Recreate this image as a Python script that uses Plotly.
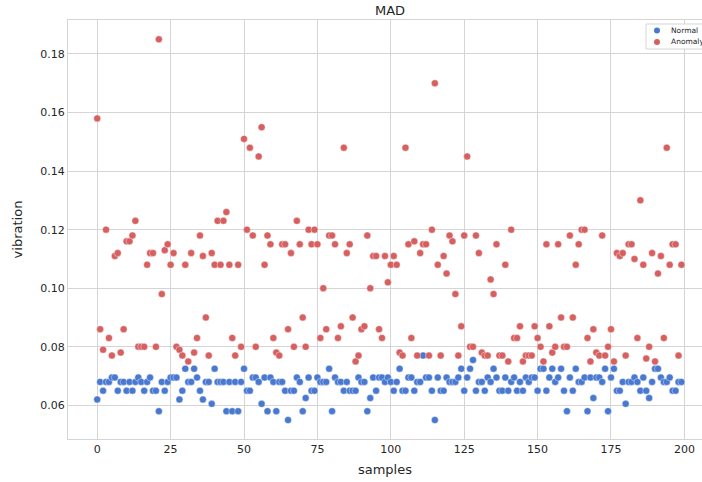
import plotly.graph_objects as go

samples = list(range(200))

normal = [
0.062,0.068,0.065,0.068,0.068,0.0695,0.0695,0.065,0.068,0.068,
0.065,0.068,0.065,0.068,0.0695,0.068,0.065,0.068,0.0695,0.065,
0.065,0.058,0.068,0.065,0.068,0.0695,0.0695,0.0695,0.062,0.065,
0.0725,0.068,0.068,0.0725,0.0695,0.065,0.062,0.068,0.068,0.0605,
0.0725,0.068,0.068,0.068,0.058,0.068,0.058,0.068,0.058,0.068,
0.0725,0.065,0.065,0.0695,0.0695,0.068,0.0605,0.0695,0.058,0.0695,
0.068,0.058,0.068,0.068,0.065,0.055,0.065,0.065,0.0695,0.068,
0.058,0.0625,0.0695,0.065,0.065,0.0695,0.068,0.068,0.068,0.0725,
0.058,0.0695,0.068,0.068,0.065,0.068,0.065,0.065,0.065,0.0695,
0.068,0.068,0.058,0.0625,0.0695,0.065,0.0695,0.0695,0.068,0.0695,
0.068,0.065,0.068,0.0725,0.065,0.065,0.0695,0.0695,0.065,0.068,
0.068,0.077,0.0695,0.0695,0.065,0.055,0.0695,0.065,0.065,0.0695,
0.068,0.068,0.068,0.0695,0.0725,0.065,0.0695,0.0725,0.0755,0.065,
0.068,0.068,0.065,0.0695,0.068,0.0725,0.0695,0.065,0.065,0.0695,
0.065,0.068,0.0695,0.065,0.068,0.065,0.0695,0.068,0.0695,0.0695,
0.065,0.0725,0.0725,0.065,0.0695,0.0725,0.068,0.0695,0.0725,0.065,
0.058,0.0695,0.065,0.0725,0.068,0.068,0.0695,0.058,0.0695,0.0625,
0.0695,0.0695,0.068,0.0725,0.058,0.0695,0.0725,0.065,0.065,0.068,
0.0605,0.068,0.068,0.0695,0.068,0.065,0.0695,0.065,0.0625,0.068,
0.0725,0.0725,0.0695,0.068,0.068,0.0695,0.065,0.065,0.068,0.068,
]

anomaly = [
0.158,0.086,0.079,0.120,0.083,0.077,0.111,0.112,0.078,0.086,
0.116,0.116,0.118,0.123,0.080,0.080,0.080,0.108,0.112,0.112,
0.080,0.185,0.098,0.113,0.115,0.108,0.112,0.080,0.079,0.077,
0.108,0.075,0.112,0.078,0.083,0.118,0.111,0.090,0.077,0.112,
0.108,0.123,0.108,0.123,0.126,0.108,0.083,0.077,0.108,0.080,
0.151,0.120,0.148,0.118,0.080,0.145,0.155,0.108,0.118,0.115,
0.083,0.078,0.077,0.115,0.115,0.086,0.112,0.080,0.123,0.115,
0.090,0.080,0.120,0.115,0.120,0.115,0.083,0.100,0.086,0.118,
0.118,0.115,0.083,0.087,0.148,0.112,0.115,0.090,0.075,0.077,
0.086,0.087,0.118,0.100,0.111,0.111,0.086,0.083,0.111,0.102,
0.108,0.111,0.108,0.078,0.077,0.148,0.115,0.083,0.116,0.077,
0.112,0.115,0.115,0.077,0.120,0.170,0.108,0.077,0.111,0.105,
0.118,0.116,0.098,0.077,0.087,0.118,0.145,0.080,0.080,0.118,
0.112,0.078,0.077,0.077,0.103,0.098,0.115,0.077,0.077,0.108,
0.075,0.120,0.083,0.083,0.087,0.075,0.077,0.077,0.077,0.087,
0.083,0.080,0.075,0.115,0.087,0.078,0.080,0.115,0.090,0.080,
0.080,0.118,0.090,0.108,0.115,0.120,0.120,0.083,0.075,0.086,
0.078,0.077,0.118,0.077,0.080,0.086,0.075,0.112,0.111,0.112,
0.077,0.115,0.115,0.110,0.083,0.130,0.108,0.076,0.080,0.112,
0.075,0.105,0.111,0.083,0.148,0.108,0.115,0.115,0.077,0.108,
]

x_ticks = [0, 25, 50, 75, 100, 125, 150, 175, 200]
y_ticks = [0.06, 0.08, 0.10, 0.12, 0.14, 0.16, 0.18]
y_tick_labels = ["0.06", "0.08", "0.10", "0.12", "0.14", "0.16", "0.18"]
series_names = ["Normal", "Anomaly"]
series_colors = ["#4878d0", "#d65f5f"]

FONT = "DejaVu Sans"
GRID = "#d5d5d5"
W, H = 702, 482
L, R, T, B = 68, 0, 20, 43
PW, PH = W - L - R, H - T - B


def px_x(p):
    return (p - L) / PW


def px_y(p):
    return 1 - (p - T) / PH


fig = go.Figure()
for name, vals, col in zip(series_names, [normal, anomaly], series_colors):
    fig.add_trace(go.Scatter(
        x=samples, y=vals, mode="markers", name=name, showlegend=False,
        marker=dict(color=col, size=7, line=dict(width=0.4, color="white")),
    ))

# custom compact legend (matplotlib-like)
shapes = [dict(type="rect", xref="paper", yref="paper",
               x0=px_x(646), x1=px_x(712), y0=px_y(49), y1=px_y(24),
               line=dict(color="#d5d5d5", width=1), fillcolor="white", layer="above")]
annotations = []
for i, (name, col) in enumerate(zip(series_names, series_colors)):
    cy = 30.5 + i * 11.5
    shapes.append(dict(type="circle", xref="paper", yref="paper",
                       x0=px_x(654), x1=px_x(660), y0=px_y(cy + 3), y1=px_y(cy - 3),
                       line=dict(width=0), fillcolor=col, layer="above"))
    annotations.append(dict(xref="paper", yref="paper", x=px_x(669), y=px_y(cy),
                            text=name, showarrow=False, xanchor="left", yanchor="middle",
                            font=dict(size=7.5, family=FONT, color="#262626")))

fig.update_layout(
    width=W, height=H,
    margin=dict(l=L, r=R, t=T, b=B, autoexpand=False),
    paper_bgcolor="white", plot_bgcolor="white",
    font=dict(family=FONT, color="#262626", size=11),
    title=dict(text="MAD", x=390 / W, xref="container", xanchor="center",
               y=1 - 10 / H, yref="container", yanchor="middle",
               font=dict(size=13, family=FONT, color="#262626")),
    showlegend=False,
    shapes=shapes, annotations=annotations,
)
fig.update_xaxes(
    range=[-9.95, 206.0], tickvals=x_ticks, ticktext=[str(t) for t in x_ticks],
    showgrid=True, gridcolor=GRID, gridwidth=1, zeroline=False,
    showline=True, linecolor=GRID, linewidth=1, mirror=True,
    ticks="", tickfont=dict(size=11), automargin=False,
    title=dict(text="samples", font=dict(size=13), standoff=9),
)
fig.update_yaxes(
    range=[0.0485, 0.1916], tickvals=y_ticks, ticktext=y_tick_labels,
    showgrid=True, gridcolor=GRID, gridwidth=1, zeroline=False,
    showline=True, linecolor=GRID, linewidth=1, mirror=False,
    ticks="", tickfont=dict(size=11), automargin=False,
    title=dict(text="vibration", font=dict(size=13), standoff=14),
)

fig.write_html(
    "out.html",
    config={"displayModeBar": False},
    post_script="document.body.style.margin='0px';document.body.style.overflow='hidden';",
)
